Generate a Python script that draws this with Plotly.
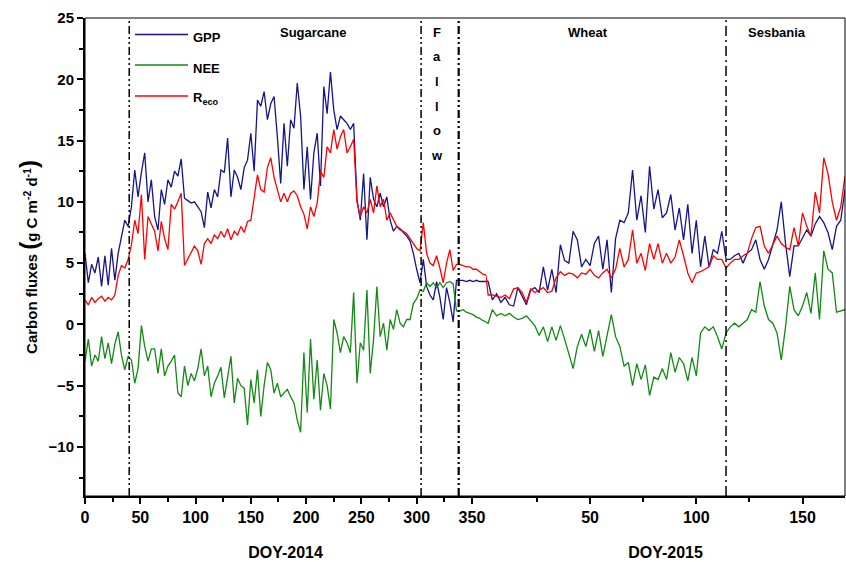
import plotly.graph_objects as go

# ---------------- data ----------------
doy_2014 = list(range(0, 364, 3))
doy_2015 = [1] + list(range(2, 171, 2))

gpp_2014 = [5.8, 3.4, 4.9, 4.2, 5.5, 3.1, 5.6, 3.2, 6.2, 3.6,
            5.8, 7.3, 8.5, 8.0, 9.6, 12.6, 10.4, 12.4, 14.0, 10.0,
            11.8, 8.8, 7.7, 11.0, 9.8, 11.8, 11.2, 12.5, 12.1, 13.5,
            10.3, 10.1, 9.9, 10.0, 9.6, 9.2, 7.9, 10.8, 9.5, 11.0,
            10.4, 12.6, 12.4, 15.2, 10.4, 12.6, 12.0, 11.0, 12.8, 13.4,
            15.6, 12.5, 18.3, 17.8, 19.0, 16.7, 18.0, 18.6, 15.3, 11.5,
            16.4, 12.9, 16.7, 16.0, 19.7, 17.0, 11.0, 14.5, 10.2, 14.0,
            15.6, 11.3, 19.4, 17.2, 20.6, 17.5, 15.9, 17.0, 16.7, 16.4,
            15.9, 16.4, 10.2, 8.5, 12.3, 6.9, 12.0, 10.2, 9.6, 10.7,
            9.6, 10.4, 8.5, 7.6, 8.0, 7.8, 7.5, 7.2, 6.8, 5.8,
            4.5, 3.4, 5.3, 3.1, 2.4, 2.0, 3.5, 2.2, 0.4, 3.0,
            1.8, 0.2, 3.6, 3.6, 3.6, 3.5, 3.6, 3.5, 3.6, 3.5,
            3.5, 3.5]

reco_2014 = [2.0, 1.6, 2.2, 1.8, 2.1, 2.3, 1.9, 2.2, 2.0, 2.4,
             4.0, 4.8, 4.6, 5.3, 6.5, 8.5, 7.4, 10.6, 5.3, 8.8,
             8.2, 7.6, 6.0, 8.4, 7.0, 6.1, 9.8, 9.4, 10.0, 10.7,
             4.8, 5.3, 5.8, 6.4, 6.0, 4.9, 6.6, 7.0, 6.6, 7.3,
             7.0, 7.6, 7.1, 7.8, 6.9, 7.6, 7.3, 8.0, 7.5, 8.4,
             8.5, 10.4, 12.2, 11.0, 10.8, 12.8, 13.6, 12.0, 11.0, 10.0,
             10.7, 10.0, 10.7, 10.9, 10.5, 9.6, 9.0, 7.8, 9.6, 8.8,
             9.9, 12.5, 12.0, 14.5, 14.0, 15.9, 14.3, 15.3, 15.9, 14.0,
             14.5, 15.1, 10.0, 8.8, 9.6, 9.1, 10.2, 9.1, 11.3, 9.6,
             10.2, 8.5, 9.1, 8.5, 8.0, 7.7, 7.6, 7.4, 7.0, 6.6,
             6.2, 6.0, 8.3, 5.8, 5.0, 4.8, 5.6, 4.6, 3.4, 5.0,
             6.1, 4.4, 4.9, 4.9, 4.8, 4.7, 4.7, 4.5, 4.5, 4.3,
             4.1, 4.0]

nee_2014 = [-3.0, -1.2, -3.4, -2.5, -3.0, -1.0, -2.8, -1.5, -3.2, -1.6,
            -0.6, -2.5, -3.7, -2.6, -2.9, -4.8, -3.6, -0.1, -1.8, -3.0,
            -2.0, -2.0, -4.0, -2.0, -4.2, -3.4, -3.0, -2.5, -5.6, -5.9,
            -3.4, -5.0, -4.0, -4.6, -3.6, -2.0, -4.2, -3.4, -5.9, -4.8,
            -4.2, -3.5, -6.0, -4.2, -2.6, -6.4, -4.4, -5.0, -5.2, -8.2,
            -4.5, -6.4, -3.7, -7.5, -5.0, -3.1, -3.7, -5.6, -4.8, -5.9,
            -5.6, -5.3, -5.9, -6.4, -7.8, -8.8, -2.3, -7.2, -1.2, -6.1,
            -2.9, -7.0, -4.0, -5.0, -6.9, 0.4, -0.7, -2.3, -1.0, -1.5,
            -2.3, 2.6, -4.8, -1.5, -2.1, 2.8, -4.0, -1.2, 3.1, -1.0,
            0.1, -2.1, 0.4, -0.4, 1.2, 0.1, -0.2, 0.4, 0.4, 1.7,
            2.1, 2.8, 2.7, 3.4, 3.1, 3.4, 3.0, 3.4, 3.0, 3.4,
            3.5, 3.3, 1.1, 1.1, 1.2, 1.0, 0.9, 0.8, 0.6, 0.5,
            0.3, 0.2]

gpp_2015 = [3.6, 3.5, 2.0, 2.5, 1.8, 2.2, 1.6, 1.5, 3.0, 2.3,
            1.6, 2.8, 3.0, 2.6, 4.7, 2.8, 4.5, 2.6, 6.5, 5.2,
            5.0, 7.6, 6.9, 4.7, 5.3, 4.8, 6.6, 7.2, 4.5, 6.9,
            2.6, 7.0, 8.5, 8.3, 9.1, 12.6, 8.5, 10.5, 7.5, 12.9,
            9.4, 11.0, 8.7, 9.1, 10.6, 7.7, 9.5, 6.9, 9.8, 5.8,
            8.5, 4.7, 7.2, 4.7, 6.1, 5.8, 7.6, 5.3, 5.3, 5.6,
            5.8, 5.0, 5.8, 6.1, 6.9, 5.3, 4.5, 5.3, 6.4, 7.7,
            10.0, 6.6, 3.9, 6.4, 6.4, 7.0, 7.7, 7.2, 8.2, 8.8,
            8.3, 7.5, 6.1, 8.0, 8.5, 11.0]

reco_2015 = [4.0, 2.4, 2.4, 2.3, 2.2, 2.4, 2.1, 2.9, 3.0, 2.6,
             1.8, 2.9, 2.6, 2.8, 3.0, 2.6, 2.7, 3.8, 4.3, 4.0,
             4.2, 4.1, 3.8, 4.2, 4.1, 4.5, 4.0, 3.8, 4.2, 4.5,
             3.8, 4.5, 6.2, 4.7, 5.3, 7.7, 5.0, 5.8, 4.4, 6.6,
             5.3, 6.6, 5.0, 5.8, 5.0, 5.5, 6.9, 5.6, 4.2, 3.4,
             4.2, 4.3, 4.5, 4.7, 5.6, 5.3, 5.3, 4.6, 5.0, 5.3,
             5.3, 5.6, 5.8, 7.0, 7.9, 8.0, 6.4, 5.8, 6.5, 7.2,
             6.6, 6.3, 6.1, 7.9, 6.4, 9.1, 8.0, 7.2, 10.8, 9.1,
             13.6, 12.3, 10.0, 8.5, 9.6, 12.1]

nee_2015 = [0.2, 0.1, 1.2, 0.7, 0.9, 0.7, 0.9, 0.6, 0.4, 0.5,
            0.7, 0.3, -0.1, -0.9, -0.2, -1.4, -0.2, -1.3, -0.1, -1.2,
            -2.3, -3.6, -1.8, -0.8, -1.8, -0.4, -2.2, -0.5, -2.6, -0.8,
            0.8, -1.0, -1.8, -3.4, -3.1, -5.0, -3.2, -4.5, -3.3, -5.8,
            -4.3, -4.5, -3.6, -4.5, -2.3, -3.9, -2.7, -3.2, -4.6, -2.7,
            -4.2, -0.7, -0.2, -0.5, -0.2, -1.0, -2.0, -0.7, -0.2, 0.1,
            -0.2, 0.1, 0.4, 1.2, 1.0, 3.5, 1.5, 0.4, 0.1, -0.7,
            -2.9, -0.2, 3.1, 1.2, 0.7, 1.5, 2.6, 0.9, 4.2, 0.4,
            6.0, 4.5, 4.2, 1.0, 1.1, 1.2]

series_names = ["GPP", "NEE", "R<sub>eco</sub>"]
series_colors = ["#14148c", "#138a13", "#ff0000"]

xticks_2014 = [0, 50, 100, 150, 200, 250, 300, 350]
xminor_2014 = [25, 75, 125, 175, 225, 275, 325]
xticks_2015 = [50, 100, 150]
xminor_2015 = [25, 75, 125]
yticks = [-10, -5, 0, 5, 10, 15, 20, 25]
yminor = [-12.5, -7.5, -2.5, 2.5, 7.5, 12.5, 17.5, 22.5]

period_lines_2014 = [40, 304, 338]
period_lines_2015 = [114]
crop_labels_2014 = [("Sugarcane", 206)]
crop_labels_2015 = [("Wheat", 49), ("Sesbania", 138)]
fallow_letters = ["F", "a", "l", "l", "o", "w"]

# ---------------- figure ----------------
FONT = "Liberation Sans, Arial, sans-serif"
fig = go.Figure()

data14 = [gpp_2014, nee_2014, reco_2014]
data15 = [gpp_2015, nee_2015, reco_2015]
for name, col, y14 in zip(series_names, series_colors, data14):
    fig.add_trace(go.Scatter(x=doy_2014, y=y14, mode="lines", name=name,
                             legendgroup=name, showlegend=False,
                             line=dict(color=col, width=1.3),
                             xaxis="x", yaxis="y"))
for name, col, y15 in zip(series_names, series_colors, data15):
    fig.add_trace(go.Scatter(x=doy_2015, y=y15, mode="lines", name=name,
                             legendgroup=name, showlegend=False,
                             line=dict(color=col, width=1.3),
                             xaxis="x2", yaxis="y"))

L, R, T, B = 85, 1, 18, 66
W, H = 846, 562
pw = W - L - R
ph = H - T - B
split = (486 - L) / pw

axis_common = dict(ticks="outside", ticklen=6, tickwidth=1.5, tickcolor="black",
                   showline=True, linewidth=2, linecolor="black",
                   showgrid=False, zeroline=False,
                   tickfont=dict(family=FONT, size=16, color="black", weight="bold"))

fig.update_layout(
    width=W, height=H,
    margin=dict(l=L, r=R, t=T, b=B),
    paper_bgcolor="white", plot_bgcolor="white",
    font=dict(family=FONT, color="black"),
    showlegend=False,
    xaxis=dict(domain=[0, split], range=[0, 362.7], tickmode="array",
               tickvals=xticks_2014, anchor="y",
               minor=dict(tickmode="array", tickvals=xminor_2014, ticks="outside",
                          ticklen=4, tickwidth=1.5, tickcolor="black"),
               title=dict(text="DOY-2014", standoff=22,
                          font=dict(family=FONT, size=16, color="black", weight="bold")),
               **axis_common),
    xaxis2=dict(domain=[split, 1], range=[1, 170], tickmode="array",
                tickvals=xticks_2015, anchor="y",
                minor=dict(tickmode="array", tickvals=xminor_2015, ticks="outside",
                           ticklen=4, tickwidth=1.5, tickcolor="black"),
                title=dict(text="DOY-2015", standoff=22,
                           font=dict(family=FONT, size=16, color="black", weight="bold")),
                **axis_common),
    yaxis=dict(range=[-14, 25], tickmode="array", tickvals=yticks,
               minor=dict(tickmode="array", tickvals=yminor, ticks="outside",
                          ticklen=4, tickwidth=1.5, tickcolor="black"),
               title=dict(text='Carbon fluxes <span style="font-size:24px">(</span>g C m<sup>-2</sup> d<sup>-1</sup><span style="font-size:24px">)</span>',
                          standoff=7,
                          font=dict(family=FONT, size=15, color="black", weight="bold")),
               ticks="outside", ticklen=6, tickwidth=1.5, tickcolor="black",
               showline=True, linewidth=2, linecolor="black",
               showgrid=False, zeroline=False,
               tickfont=dict(family=FONT, size=15, color="black", weight="bold")),
)

def px_to_paper_x(px):
    return (px - L) / pw

def py_to_paper_y(py):
    return 1 - (py - T) / ph

shapes = [dict(type="rect", xref="paper", yref="paper", x0=0, x1=1, y0=0, y1=1,
               line=dict(color="black", width=1), layer="above")]
for d in period_lines_2014:
    shapes.append(dict(type="line", xref="x", yref="paper", x0=d, x1=d, y0=0, y1=1,
                       line=dict(color="black", width=2.2 if d == 338 else 1.5,
                                 dash="8px,3px,2px,3px,2px,3px")))
for d in period_lines_2015:
    shapes.append(dict(type="line", xref="x2", yref="paper", x0=d, x1=d, y0=0, y1=1,
                       line=dict(color="black", width=1.5, dash="10px,4px,2px,4px")))

# legend (drawn as key lines + text labels)
legend_rows_py = [34.5, 65, 96]
lab_font = dict(family=FONT, size=13, color="black", weight="bold")
ann = []
for name, col, py in zip(series_names, series_colors, legend_rows_py):
    yy = py_to_paper_y(py)
    shapes.append(dict(type="line", xref="paper", yref="paper",
                       x0=px_to_paper_x(135), x1=px_to_paper_x(188), y0=yy, y1=yy,
                       line=dict(color=col, width=1.5)))
    ann.append(dict(text=name, xref="paper", yref="paper", x=px_to_paper_x(191),
                    y=py_to_paper_y(py + 3), xanchor="left", yanchor="middle",
                    showarrow=False, font=lab_font))
fig.update_layout(shapes=shapes)

for txt, d in crop_labels_2014:
    ann.append(dict(text=txt, xref="x", yref="y", x=d, y=23.85, showarrow=False, font=lab_font))
for txt, d in crop_labels_2015:
    ann.append(dict(text=txt, xref="x2", yref="y", x=d, y=23.85, showarrow=False, font=lab_font))
for i, ch in enumerate(fallow_letters):
    ann.append(dict(text=ch, xref="x", yref="y", x=318.3, y=23.85 - i * 2.01,
                    showarrow=False, font=lab_font))
fig.update_layout(annotations=ann)

fig.write_html("out.html", config={"displayModeBar": False},
               post_script="document.body.style.margin='0px';")
